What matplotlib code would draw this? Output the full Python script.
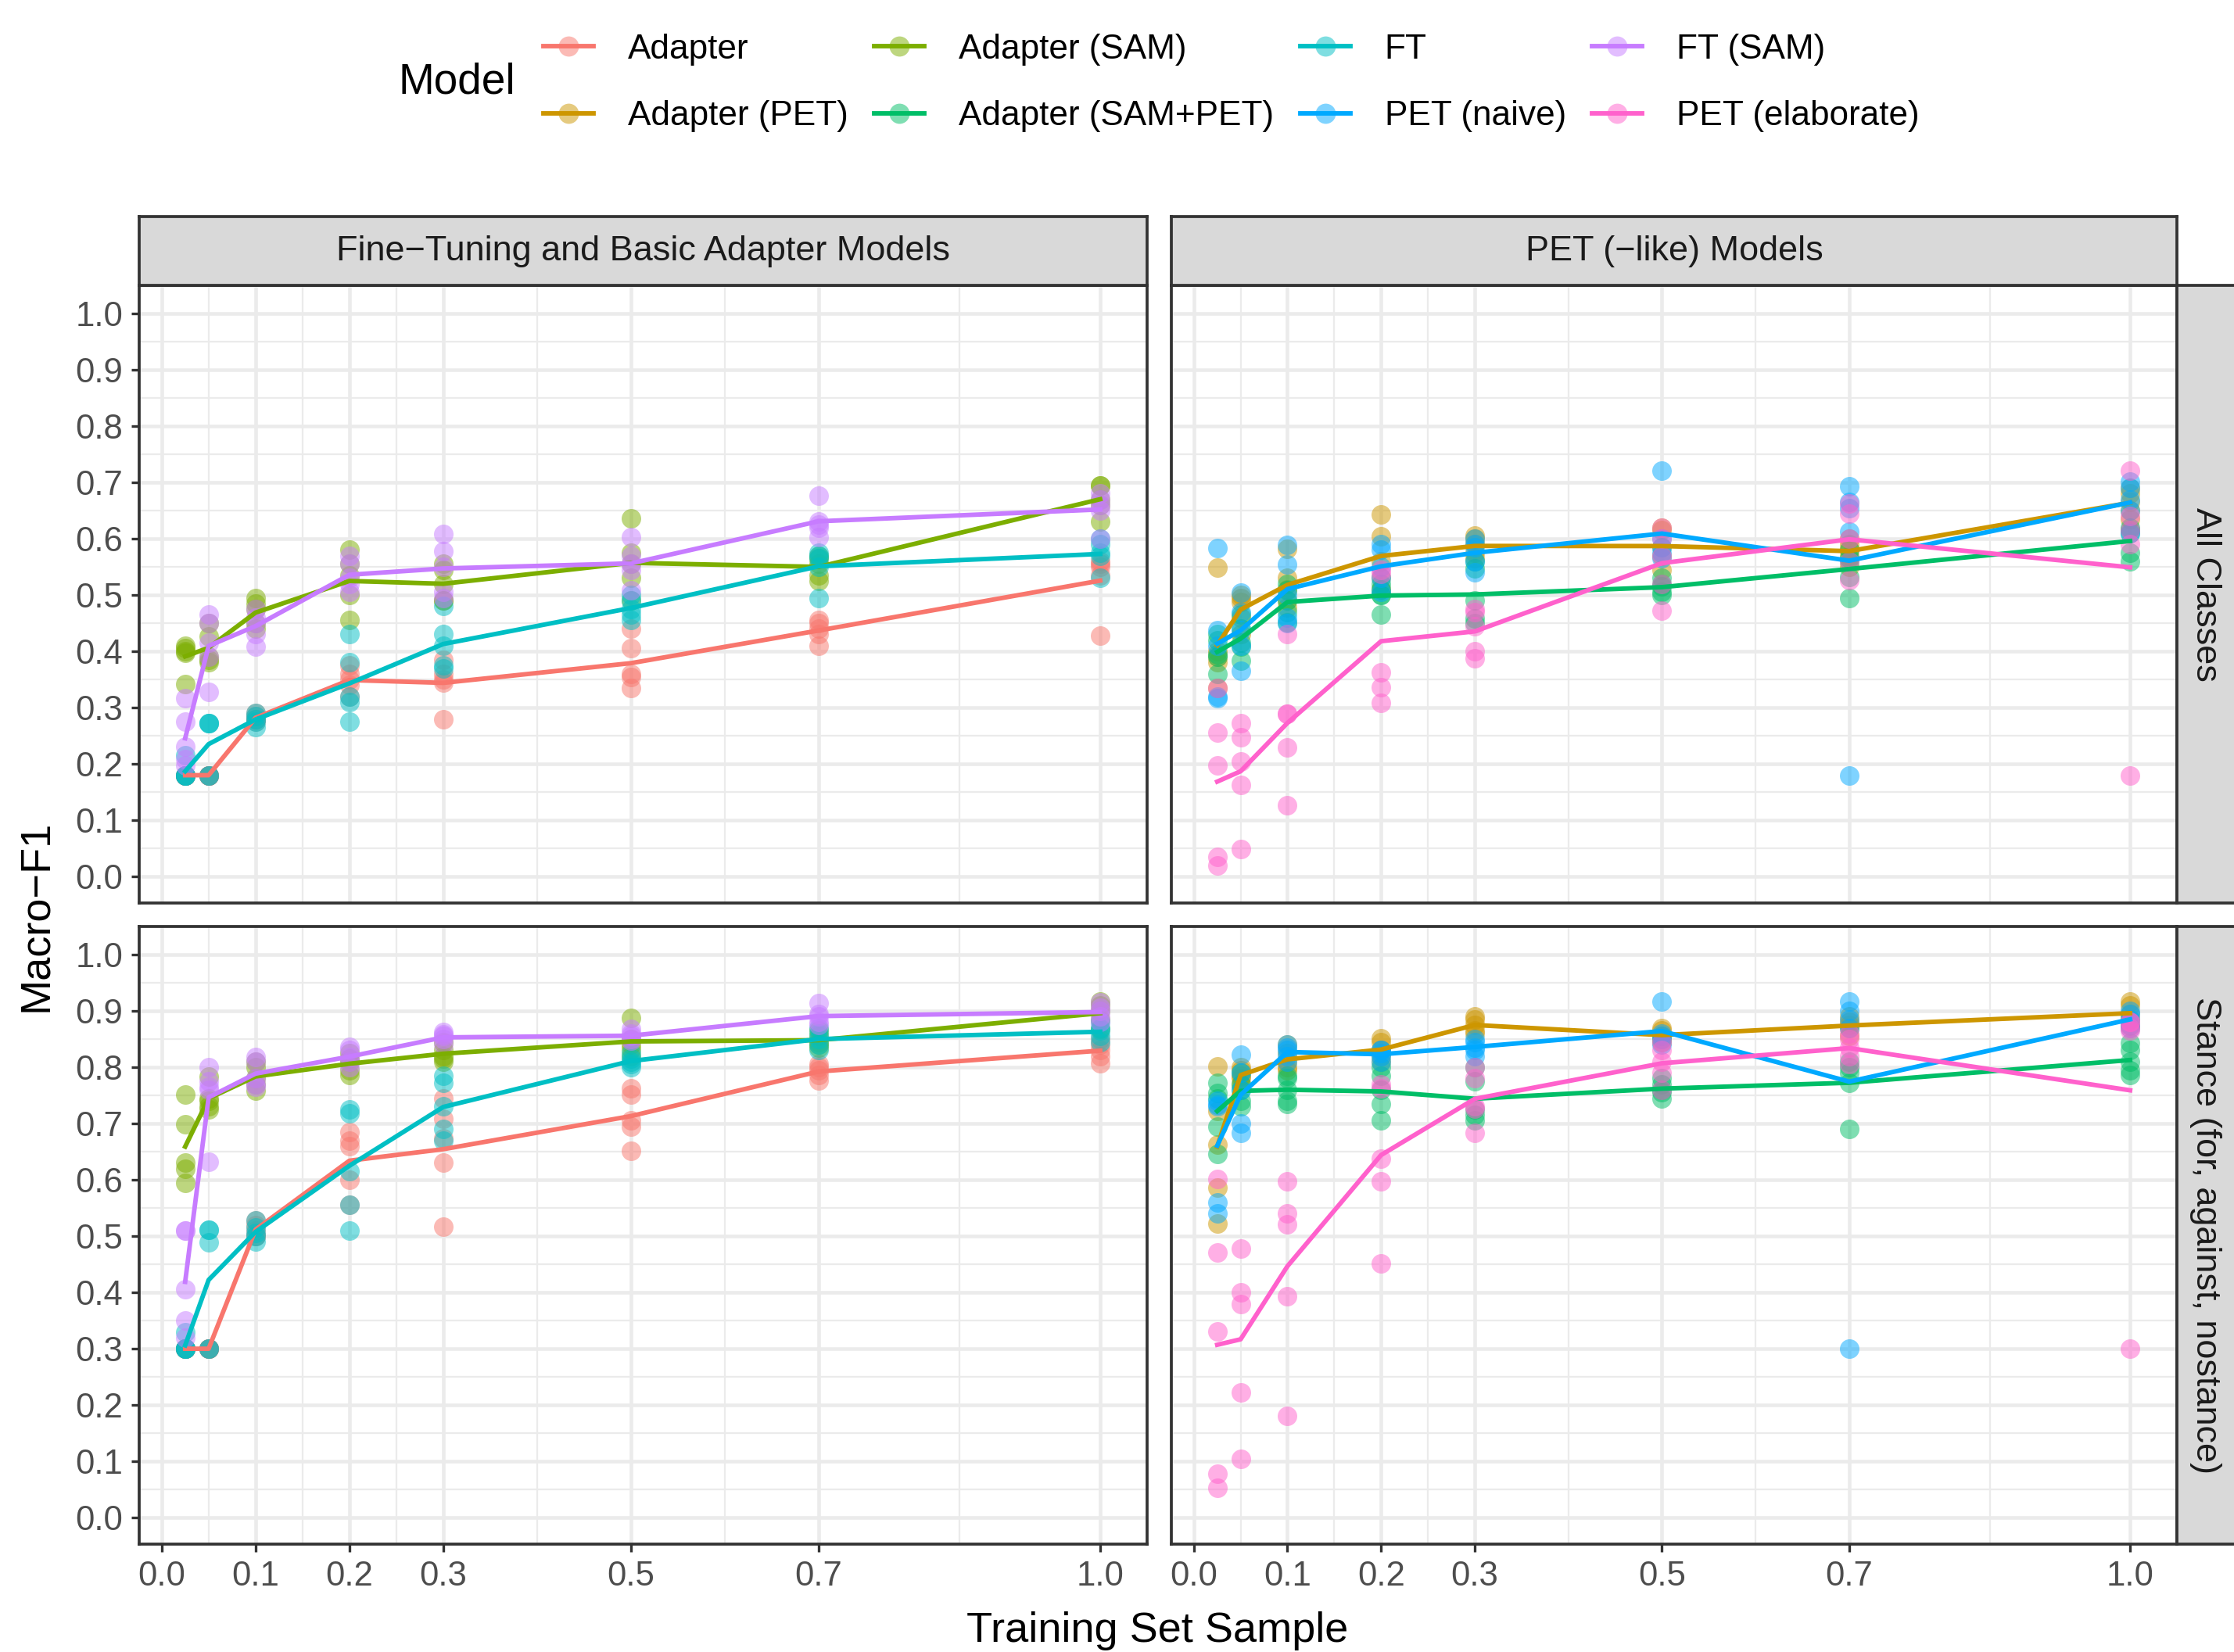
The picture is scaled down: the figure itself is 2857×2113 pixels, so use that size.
import numpy as np
import matplotlib
matplotlib.use("Agg")
import matplotlib.pyplot as plt
from matplotlib.lines import Line2D

plt.rcParams["font.family"] = ["Liberation Sans", "DejaVu Sans"]

# training set fractions (x axis)
x_sample = [0.025, 0.05, 0.1, 0.2, 0.3, 0.5, 0.7, 1.0]

# ---- All Classes: five runs per sample size ----
adapter_all = [[0.18] * 5, [0.18] * 5,
               [0.29, 0.285, 0.28, 0.28, 0.275], [0.375, 0.36, 0.35, 0.34, 0.32],
               [0.385, 0.36, 0.35, 0.345, 0.28], [0.44, 0.405, 0.36, 0.355, 0.335],
               [0.455, 0.45, 0.44, 0.43, 0.41], [0.56, 0.555, 0.55, 0.535, 0.428]]
adapter_sam_all = [[0.41, 0.405, 0.4, 0.398, 0.342], [0.45, 0.427, 0.39, 0.385, 0.38],
                   [0.494, 0.485, 0.475, 0.45, 0.44], [0.58, 0.555, 0.535, 0.5, 0.455],
                   [0.555, 0.545, 0.52, 0.49, 0.49], [0.636, 0.575, 0.555, 0.53, 0.49],
                   [0.57, 0.565, 0.555, 0.535, 0.525], [0.695, 0.695, 0.67, 0.66, 0.631]]
ft_all = [[0.215, 0.18, 0.18, 0.18, 0.18], [0.272, 0.272, 0.272, 0.18, 0.18],
          [0.29, 0.285, 0.28, 0.275, 0.265], [0.43, 0.38, 0.32, 0.31, 0.275],
          [0.48, 0.43, 0.41, 0.375, 0.37], [0.5, 0.49, 0.475, 0.465, 0.455],
          [0.575, 0.57, 0.565, 0.55, 0.495], [0.6, 0.59, 0.575, 0.57, 0.53]]
ft_sam_all = [[0.317, 0.275, 0.231, 0.208, 0.197], [0.465, 0.45, 0.415, 0.39, 0.328],
              [0.475, 0.46, 0.45, 0.43, 0.409], [0.57, 0.555, 0.53, 0.52, 0.505],
              [0.608, 0.578, 0.55, 0.505, 0.495], [0.603, 0.57, 0.555, 0.545, 0.508],
              [0.677, 0.63, 0.625, 0.62, 0.603], [0.68, 0.67, 0.66, 0.65, 0.6]]
adapter_pet_all = [[0.549, 0.4, 0.39, 0.38, 0.335], [0.5, 0.494, 0.487, 0.46, 0.43],
                   [0.582, 0.53, 0.51, 0.49, 0.478], [0.643, 0.604, 0.56, 0.53, 0.51],
                   [0.606, 0.6, 0.59, 0.575, 0.565], [0.62, 0.615, 0.585, 0.57, 0.545],
                   [0.6, 0.59, 0.58, 0.57, 0.55], [0.69, 0.68, 0.665, 0.65, 0.635]]
adapter_sam_pet_all = [[0.43, 0.42, 0.395, 0.39, 0.36], [0.465, 0.44, 0.415, 0.409, 0.384],
                       [0.52, 0.508, 0.49, 0.469, 0.451], [0.52, 0.51, 0.5, 0.5, 0.465],
                       [0.56, 0.547, 0.49, 0.458, 0.45], [0.53, 0.52, 0.515, 0.505, 0.5],
                       [0.58, 0.565, 0.56, 0.532, 0.494], [0.62, 0.615, 0.61, 0.575, 0.56]]
pet_naive_all = [[0.583, 0.437, 0.41, 0.32, 0.317], [0.504, 0.47, 0.437, 0.41, 0.365],
                 [0.589, 0.554, 0.5, 0.46, 0.45], [0.59, 0.58, 0.55, 0.53, 0.505],
                 [0.6, 0.59, 0.585, 0.56, 0.54], [0.721, 0.6, 0.585, 0.575, 0.565],
                 [0.693, 0.666, 0.654, 0.612, 0.18], [0.702, 0.69, 0.67, 0.65, 0.61]]
pet_elab_all = [[0.335, 0.256, 0.197, 0.035, 0.02], [0.272, 0.247, 0.205, 0.162, 0.049],
                [0.43, 0.289, 0.289, 0.229, 0.127], [0.545, 0.538, 0.363, 0.336, 0.308],
                [0.475, 0.47, 0.444, 0.4, 0.388], [0.62, 0.6, 0.57, 0.52, 0.473],
                [0.663, 0.645, 0.6, 0.56, 0.527], [0.721, 0.64, 0.615, 0.59, 0.18]]

# ---- Stance (for, against, nostance) ----
adapter_st = [[0.3] * 5, [0.3] * 5,
              [0.528, 0.52, 0.51, 0.5, 0.5], [0.685, 0.67, 0.66, 0.6, 0.555],
              [0.744, 0.708, 0.673, 0.63, 0.517], [0.762, 0.752, 0.705, 0.695, 0.652],
              [0.805, 0.8, 0.795, 0.786, 0.776], [0.85, 0.84, 0.83, 0.82, 0.807]]
adapter_sam_st = [[0.752, 0.698, 0.63, 0.62, 0.595], [0.783, 0.745, 0.74, 0.73, 0.725],
                  [0.81, 0.8, 0.78, 0.77, 0.758], [0.825, 0.815, 0.81, 0.795, 0.786],
                  [0.845, 0.83, 0.82, 0.815, 0.81], [0.887, 0.85, 0.84, 0.832, 0.82],
                  [0.865, 0.855, 0.845, 0.84, 0.835], [0.917, 0.91, 0.9, 0.885, 0.868]]
ft_st = [[0.33, 0.3, 0.3, 0.3, 0.3], [0.511, 0.511, 0.489, 0.3, 0.3],
         [0.528, 0.515, 0.505, 0.5, 0.49], [0.725, 0.718, 0.616, 0.556, 0.51],
         [0.785, 0.772, 0.73, 0.69, 0.67], [0.825, 0.815, 0.81, 0.805, 0.8],
         [0.87, 0.86, 0.85, 0.84, 0.83], [0.88, 0.87, 0.865, 0.855, 0.845]]
ft_sam_st = [[0.51, 0.51, 0.405, 0.35, 0.319], [0.8, 0.775, 0.765, 0.76, 0.632],
             [0.818, 0.81, 0.78, 0.77, 0.765], [0.836, 0.83, 0.818, 0.81, 0.8],
             [0.862, 0.858, 0.855, 0.85, 0.84], [0.868, 0.86, 0.855, 0.85, 0.847],
             [0.914, 0.895, 0.89, 0.88, 0.875], [0.915, 0.905, 0.9, 0.89, 0.88]]
adapter_pet_st = [[0.802, 0.722, 0.662, 0.586, 0.523], [0.8, 0.795, 0.785, 0.78, 0.77],
                  [0.84, 0.825, 0.81, 0.8, 0.795], [0.852, 0.845, 0.83, 0.82, 0.81],
                  [0.89, 0.885, 0.875, 0.865, 0.86], [0.87, 0.865, 0.855, 0.85, 0.845],
                  [0.89, 0.88, 0.875, 0.87, 0.855], [0.917, 0.91, 0.895, 0.885, 0.873]]
adapter_sam_pet_st = [[0.772, 0.754, 0.744, 0.694, 0.646], [0.79, 0.77, 0.76, 0.74, 0.73],
                      [0.785, 0.78, 0.76, 0.74, 0.735], [0.8, 0.785, 0.76, 0.735, 0.705],
                      [0.8, 0.775, 0.725, 0.715, 0.705], [0.78, 0.77, 0.76, 0.755, 0.745],
                      [0.81, 0.8, 0.79, 0.772, 0.69], [0.843, 0.83, 0.81, 0.795, 0.786]]
pet_naive_st = [[0.74, 0.733, 0.73, 0.56, 0.54], [0.822, 0.79, 0.76, 0.7, 0.683],
                [0.84, 0.835, 0.83, 0.82, 0.81], [0.83, 0.83, 0.825, 0.82, 0.81],
                [0.85, 0.845, 0.835, 0.83, 0.82], [0.916, 0.86, 0.855, 0.85, 0.84],
                [0.917, 0.9, 0.885, 0.87, 0.3], [0.9, 0.895, 0.885, 0.875, 0.87]]
pet_elab_st = [[0.602, 0.471, 0.331, 0.078, 0.053], [0.478, 0.4, 0.379, 0.223, 0.104],
               [0.598, 0.54, 0.521, 0.393, 0.181], [0.77, 0.763, 0.637, 0.598, 0.452],
               [0.8, 0.78, 0.73, 0.726, 0.683], [0.845, 0.83, 0.81, 0.79, 0.76],
               [0.86, 0.85, 0.835, 0.82, 0.805], [0.88, 0.88, 0.87, 0.865, 0.3]]

models = ["Adapter", "Adapter (PET)", "Adapter (SAM)", "Adapter (SAM+PET)",
          "FT", "PET (naive)", "FT (SAM)", "PET (elaborate)"]
colors = ["#F8766D", "#CD9600", "#7CAE00", "#00BE67",
          "#00BFC4", "#00A9FF", "#C77CFF", "#FF61CC"]
col = dict(zip(models, colors))

all_classes = {"Adapter": adapter_all, "Adapter (SAM)": adapter_sam_all,
               "FT": ft_all, "FT (SAM)": ft_sam_all,
               "Adapter (PET)": adapter_pet_all, "Adapter (SAM+PET)": adapter_sam_pet_all,
               "PET (naive)": pet_naive_all, "PET (elaborate)": pet_elab_all}
stance = {"Adapter": adapter_st, "Adapter (SAM)": adapter_sam_st,
          "FT": ft_st, "FT (SAM)": ft_sam_st,
          "Adapter (PET)": adapter_pet_st, "Adapter (SAM+PET)": adapter_sam_pet_st,
          "PET (naive)": pet_naive_st, "PET (elaborate)": pet_elab_st}

left_models = ["Adapter", "Adapter (SAM)", "FT", "FT (SAM)"]
right_models = ["Adapter (PET)", "Adapter (SAM+PET)", "PET (naive)", "PET (elaborate)"]

W, H = 2857, 2113
fig = plt.figure(figsize=(W / 300, H / 300), dpi=300)


def fx(px):
    return px / W


def fy(py):
    return 1 - py / H


GRID = "#EBEBEB"
DARK = "#333333"


def draw_panel(ax, data, names, show_x, show_y):
    for n in names:
        for xi, ys in zip(x_sample, data[n]):
            ax.scatter([xi] * len(ys), ys, s=36, color=col[n], alpha=0.5,
                       linewidths=0, zorder=3)
    for n in names:
        means = [np.mean(v) for v in data[n]]
        ax.plot(x_sample, means, color=col[n], lw=1.4, zorder=4)
    ax.set_xlim(-0.024, 1.05)
    ax.set_ylim(-0.047, 1.05)
    ax.set_xticks([0, 0.1, 0.2, 0.3, 0.5, 0.7, 1.0])
    ax.set_xticks([0.05, 0.15, 0.25, 0.4, 0.6, 0.85], minor=True)
    ax.set_yticks(np.round(np.arange(0, 1.01, 0.1), 1))
    ax.set_yticks(np.round(np.arange(0.05, 1.0, 0.1), 2), minor=True)
    ax.grid(which="major", color=GRID, lw=1.1, zorder=0)
    ax.grid(which="minor", color=GRID, lw=0.55, zorder=0)
    ax.set_axisbelow(True)
    for s in ax.spines.values():
        s.set_color(DARK)
        s.set_linewidth(0.9)
    ax.tick_params(which="minor", length=0)
    ax.tick_params(which="major", length=2.5, width=0.8, color=DARK,
                   labelsize=10.5, labelcolor="#4D4D4D", pad=2.5)
    if show_x:
        ax.set_xticklabels(["0.0", "0.1", "0.2", "0.3", "0.5", "0.7", "1.0"])
    else:
        ax.tick_params(axis="x", which="major", length=0, labelbottom=False)
    if show_y:
        ax.set_yticklabels([f"{v:.1f}" for v in np.arange(0, 1.01, 0.1)])
    else:
        ax.tick_params(axis="y", which="major", length=0, labelleft=False)


cols_px = [(178, 1467), (1498, 2784)]
rows_px = [(365, 1155), (1185, 1975)]
facets = [all_classes, stance]
groups = [left_models, right_models]

for r, (top, bot) in enumerate(rows_px):
    for c, (left, right) in enumerate(cols_px):
        ax = fig.add_axes([fx(left), fy(bot), fx(right - left), (bot - top) / H])
        draw_panel(ax, facets[r], groups[c], show_x=(r == 1), show_y=(c == 0))

# strips on top
strip_titles = ["Fine\u2212Tuning and Basic Adapter Models", "PET (\u2212like) Models"]
for (left, right), t in zip(cols_px, strip_titles):
    sa = fig.add_axes([fx(left), fy(365), fx(right - left), (365 - 277) / H])
    sa.set_facecolor("#D9D9D9")
    sa.set_xticks([])
    sa.set_yticks([])
    for s in sa.spines.values():
        s.set_color(DARK)
        s.set_linewidth(0.9)
    sa.text(0.5, 0.5, t, ha="center", va="center", fontsize=10.8, color="#1A1A1A",
            transform=sa.transAxes)

# strips on the right
row_titles = ["All Classes", "Stance (for, against, nostance)"]
for (top, bot), t in zip(rows_px, row_titles):
    sa = fig.add_axes([fx(2784), fy(bot), fx(W - 2784) + 0.01, (bot - top) / H])
    sa.set_facecolor("#D9D9D9")
    sa.set_xticks([])
    sa.set_yticks([])
    for s in sa.spines.values():
        s.set_color(DARK)
        s.set_linewidth(0.9)
    sa.text(0.5 * (W - 2784) / (W - 2784 + 0.01 * W), 0.5, t, ha="center", va="center",
            rotation=-90, fontsize=10.8, color="#1A1A1A", transform=sa.transAxes)

# axis titles
fig.text(fx(46), fy(1171), "Macro\u2212F1", rotation=90, ha="center", va="center",
         fontsize=13)
fig.text(fx(1480), fy(2086), "Training Set Sample", ha="center", va="center",
         fontsize=13)

# legend
handles = [Line2D([0], [0], color=col[m], lw=1.4, marker="o", markersize=6.2,
                  markerfacecolor=matplotlib.colors.to_rgba(col[m], 0.5),
                  markeredgewidth=0) for m in models]
fig.legend(handles, models, ncol=4, loc="center left",
           bbox_to_anchor=(fx(695), fy(106)), frameon=False, fontsize=10.6,
           handlelength=1.45, handletextpad=1.0, columnspacing=0.75,
           labelspacing=1.0, borderpad=0, borderaxespad=0)
fig.text(fx(510), fy(106), "Model", ha="left", va="center", fontsize=13.2)

fig.savefig("out.png", dpi=300)
